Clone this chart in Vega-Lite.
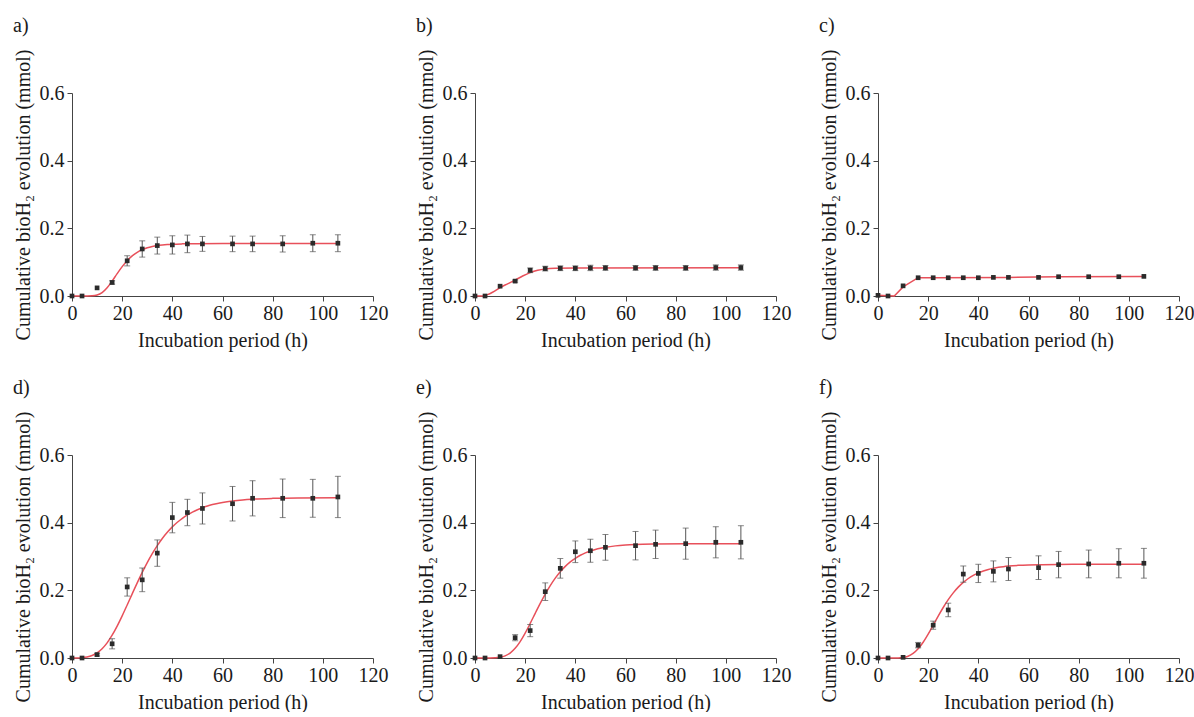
{
"$schema": "https://vega.github.io/schema/vega-lite/v6.json",
"background": "white",
"padding": {"left": 12, "top": 16, "right": 0, "bottom": 0},
"bounds": "flush",
"columns": 3,
"spacing": {"row": 159, "column": 102},
"datasets": {
"obs": [
{"p":"a","t":0,"y":0,"e":0},{"p":"a","t":4,"y":0,"e":0},{"p":"a","t":10,"y":0.024,"e":0},{"p":"a","t":16,"y":0.040,"e":0.005},{"p":"a","t":22,"y":0.104,"e":0.015},{"p":"a","t":28,"y":0.139,"e":0.024},{"p":"a","t":34,"y":0.149,"e":0.025},{"p":"a","t":40,"y":0.151,"e":0.027},{"p":"a","t":46,"y":0.154,"e":0.026},{"p":"a","t":52,"y":0.154,"e":0.022},{"p":"a","t":64,"y":0.154,"e":0.023},{"p":"a","t":72,"y":0.154,"e":0.023},{"p":"a","t":84,"y":0.154,"e":0.024},{"p":"a","t":96,"y":0.156,"e":0.025},{"p":"a","t":106,"y":0.156,"e":0.025},
{"p":"b","t":0,"y":0,"e":0},{"p":"b","t":4,"y":0,"e":0},{"p":"b","t":10,"y":0.029,"e":0},{"p":"b","t":16,"y":0.044,"e":0.003},{"p":"b","t":22,"y":0.076,"e":0.007},{"p":"b","t":28,"y":0.081,"e":0.007},{"p":"b","t":34,"y":0.082,"e":0.007},{"p":"b","t":40,"y":0.082,"e":0.007},{"p":"b","t":46,"y":0.083,"e":0.008},{"p":"b","t":52,"y":0.083,"e":0.007},{"p":"b","t":64,"y":0.083,"e":0.007},{"p":"b","t":72,"y":0.083,"e":0.007},{"p":"b","t":84,"y":0.083,"e":0.007},{"p":"b","t":96,"y":0.084,"e":0.008},{"p":"b","t":106,"y":0.084,"e":0.008},
{"p":"c","t":0,"y":0.002,"e":0},{"p":"c","t":4,"y":0,"e":0},{"p":"c","t":10,"y":0.030,"e":0},{"p":"c","t":16,"y":0.054,"e":0},{"p":"c","t":22,"y":0.054,"e":0},{"p":"c","t":28,"y":0.054,"e":0},{"p":"c","t":34,"y":0.054,"e":0},{"p":"c","t":40,"y":0.054,"e":0},{"p":"c","t":46,"y":0.055,"e":0},{"p":"c","t":52,"y":0.055,"e":0},{"p":"c","t":64,"y":0.055,"e":0},{"p":"c","t":72,"y":0.057,"e":0},{"p":"c","t":84,"y":0.057,"e":0},{"p":"c","t":96,"y":0.057,"e":0},{"p":"c","t":106,"y":0.058,"e":0},
{"p":"d","t":0,"y":0,"e":0},{"p":"d","t":4,"y":0,"e":0},{"p":"d","t":10,"y":0.010,"e":0.004},{"p":"d","t":16,"y":0.042,"e":0.015},{"p":"d","t":22,"y":0.210,"e":0.027},{"p":"d","t":28,"y":0.231,"e":0.035},{"p":"d","t":34,"y":0.310,"e":0.039},{"p":"d","t":40,"y":0.415,"e":0.045},{"p":"d","t":46,"y":0.430,"e":0.039},{"p":"d","t":52,"y":0.442,"e":0.046},{"p":"d","t":64,"y":0.456,"e":0.051},{"p":"d","t":72,"y":0.472,"e":0.052},{"p":"d","t":84,"y":0.472,"e":0.057},{"p":"d","t":96,"y":0.472,"e":0.056},{"p":"d","t":106,"y":0.476,"e":0.061},
{"p":"e","t":0,"y":0,"e":0},{"p":"e","t":4,"y":0,"e":0},{"p":"e","t":10,"y":0.004,"e":0},{"p":"e","t":16,"y":0.060,"e":0.009},{"p":"e","t":22,"y":0.081,"e":0.018},{"p":"e","t":28,"y":0.196,"e":0.026},{"p":"e","t":34,"y":0.265,"e":0.029},{"p":"e","t":40,"y":0.314,"e":0.032},{"p":"e","t":46,"y":0.317,"e":0.034},{"p":"e","t":52,"y":0.327,"e":0.038},{"p":"e","t":64,"y":0.332,"e":0.042},{"p":"e","t":72,"y":0.336,"e":0.042},{"p":"e","t":84,"y":0.338,"e":0.046},{"p":"e","t":96,"y":0.342,"e":0.046},{"p":"e","t":106,"y":0.342,"e":0.049},
{"p":"f","t":0,"y":0,"e":0},{"p":"f","t":4,"y":0,"e":0},{"p":"f","t":10,"y":0.002,"e":0},{"p":"f","t":16,"y":0.038,"e":0.008},{"p":"f","t":22,"y":0.097,"e":0.012},{"p":"f","t":28,"y":0.142,"e":0.020},{"p":"f","t":34,"y":0.248,"e":0.024},{"p":"f","t":40,"y":0.250,"e":0.027},{"p":"f","t":46,"y":0.256,"e":0.031},{"p":"f","t":52,"y":0.263,"e":0.034},{"p":"f","t":64,"y":0.267,"e":0.035},{"p":"f","t":72,"y":0.276,"e":0.039},{"p":"f","t":84,"y":0.278,"e":0.041},{"p":"f","t":96,"y":0.280,"e":0.043},{"p":"f","t":106,"y":0.280,"e":0.044}
],
"fit": [
{"p":"a","t":0,"y":0},{"p":"a","t":4,"y":0},{"p":"a","t":6,"y":0},{"p":"a","t":8,"y":0.0004},{"p":"a","t":10,"y":0.0028},{"p":"a","t":12,"y":0.0102},{"p":"a","t":14,"y":0.0244},{"p":"a","t":16,"y":0.0441},{"p":"a","t":18,"y":0.0660},{"p":"a","t":20,"y":0.0867},{"p":"a","t":22,"y":0.1044},{"p":"a","t":24,"y":0.1185},{"p":"a","t":26,"y":0.1291},{"p":"a","t":28,"y":0.1369},{"p":"a","t":30,"y":0.1425},{"p":"a","t":32,"y":0.1464},{"p":"a","t":34,"y":0.1491},{"p":"a","t":36,"y":0.1509},{"p":"a","t":38,"y":0.1522},{"p":"a","t":40,"y":0.1531},{"p":"a","t":44,"y":0.1541},{"p":"a","t":50,"y":0.1547},{"p":"a","t":60,"y":0.1550},{"p":"a","t":106,"y":0.1552},
{"p":"b","t":0,"y":0},{"p":"b","t":3,"y":0},{"p":"b","t":5,"y":0.004},{"p":"b","t":7,"y":0.011},{"p":"b","t":10,"y":0.025},{"p":"b","t":13,"y":0.036},{"p":"b","t":16,"y":0.047},{"p":"b","t":19,"y":0.059},{"p":"b","t":22,"y":0.069},{"p":"b","t":25,"y":0.076},{"p":"b","t":28,"y":0.080},{"p":"b","t":32,"y":0.082},{"p":"b","t":40,"y":0.083},{"p":"b","t":106,"y":0.0835},
{"p":"c","t":0,"y":0.002},{"p":"c","t":4,"y":0.001},{"p":"c","t":6.5,"y":0},{"p":"c","t":10,"y":0.027},{"p":"c","t":16,"y":0.054},{"p":"c","t":22,"y":0.054},{"p":"c","t":52,"y":0.055},{"p":"c","t":72,"y":0.057},{"p":"c","t":106,"y":0.058},
{"p":"d","t":0,"y":0.0001},{"p":"d","t":2,"y":0.0003},{"p":"d","t":4,"y":0.0011},{"p":"d","t":6,"y":0.0031},{"p":"d","t":8,"y":0.0074},{"p":"d","t":10,"y":0.0151},{"p":"d","t":12,"y":0.0274},{"p":"d","t":14,"y":0.0448},{"p":"d","t":16,"y":0.0673},{"p":"d","t":18,"y":0.0942},{"p":"d","t":20,"y":0.1245},{"p":"d","t":22,"y":0.1568},{"p":"d","t":24,"y":0.1897},{"p":"d","t":26,"y":0.2221},{"p":"d","t":28,"y":0.2531},{"p":"d","t":30,"y":0.2820},{"p":"d","t":32,"y":0.3084},{"p":"d","t":34,"y":0.3321},{"p":"d","t":36,"y":0.3532},{"p":"d","t":38,"y":0.3715},{"p":"d","t":40,"y":0.3875},{"p":"d","t":42,"y":0.4011},{"p":"d","t":44,"y":0.4129},{"p":"d","t":46,"y":0.4228},{"p":"d","t":48,"y":0.4312},{"p":"d","t":50,"y":0.4383},{"p":"d","t":52,"y":0.4443},{"p":"d","t":54,"y":0.4493},{"p":"d","t":56,"y":0.4534},{"p":"d","t":58,"y":0.4569},{"p":"d","t":60,"y":0.4598},{"p":"d","t":64,"y":0.4642},{"p":"d","t":68,"y":0.4673},{"p":"d","t":72,"y":0.4694},{"p":"d","t":80,"y":0.4718},{"p":"d","t":90,"y":0.4732},{"p":"d","t":106,"y":0.4738},
{"p":"e","t":0,"y":0},{"p":"e","t":4,"y":0},{"p":"e","t":6,"y":0.0001},{"p":"e","t":8,"y":0.0005},{"p":"e","t":10,"y":0.0021},{"p":"e","t":12,"y":0.0062},{"p":"e","t":14,"y":0.0146},{"p":"e","t":16,"y":0.0286},{"p":"e","t":18,"y":0.0486},{"p":"e","t":20,"y":0.0737},{"p":"e","t":22,"y":0.1021},{"p":"e","t":24,"y":0.1320},{"p":"e","t":26,"y":0.1614},{"p":"e","t":28,"y":0.1891},{"p":"e","t":30,"y":0.2142},{"p":"e","t":32,"y":0.2362},{"p":"e","t":34,"y":0.2551},{"p":"e","t":36,"y":0.2709},{"p":"e","t":38,"y":0.2841},{"p":"e","t":40,"y":0.2948},{"p":"e","t":42,"y":0.3036},{"p":"e","t":44,"y":0.3107},{"p":"e","t":46,"y":0.3163},{"p":"e","t":48,"y":0.3209},{"p":"e","t":50,"y":0.3245},{"p":"e","t":52,"y":0.3273},{"p":"e","t":56,"y":0.3314},{"p":"e","t":60,"y":0.3339},{"p":"e","t":64,"y":0.3355},{"p":"e","t":72,"y":0.3370},{"p":"e","t":84,"y":0.3378},{"p":"e","t":106,"y":0.3380},
{"p":"f","t":0,"y":0},{"p":"f","t":4,"y":0},{"p":"f","t":6,"y":0},{"p":"f","t":8,"y":0.0003},{"p":"f","t":10,"y":0.0016},{"p":"f","t":12,"y":0.0053},{"p":"f","t":14,"y":0.0134},{"p":"f","t":16,"y":0.0271},{"p":"f","t":18,"y":0.0465},{"p":"f","t":20,"y":0.0705},{"p":"f","t":22,"y":0.0970},{"p":"f","t":24,"y":0.1238},{"p":"f","t":26,"y":0.1493},{"p":"f","t":28,"y":0.1724},{"p":"f","t":30,"y":0.1925},{"p":"f","t":32,"y":0.2095},{"p":"f","t":34,"y":0.2236},{"p":"f","t":36,"y":0.2350},{"p":"f","t":38,"y":0.2442},{"p":"f","t":40,"y":0.2515},{"p":"f","t":42,"y":0.2572},{"p":"f","t":44,"y":0.2617},{"p":"f","t":46,"y":0.2651},{"p":"f","t":48,"y":0.2679},{"p":"f","t":50,"y":0.2700},{"p":"f","t":52,"y":0.2716},{"p":"f","t":56,"y":0.2738},{"p":"f","t":60,"y":0.2751},{"p":"f","t":64,"y":0.2759},{"p":"f","t":72,"y":0.2766},{"p":"f","t":84,"y":0.2769},{"p":"f","t":106,"y":0.2770}
]
},
"concat": [
{"title":"a)","width":301,"height":203,"layer":[
{"data":{"name":"fit"},"transform":[{"filter":"datum.p == 'a'"}],"mark":{"type":"line","color":"#e8505a","strokeWidth":1.5,"interpolate":"monotone"},
"encoding":{"x":{"field":"t","type":"quantitative","title":"Incubation period (h)","scale":{"domain":[0,120],"nice":false},"axis":{"values":[0,10,20,30,40,50,60,70,80,90,100,110,120],"labelExpr":"datum.value % 20 == 0 ? datum.label : ''","tickSize":{"condition":{"test":"datum.value % 20 != 0","value":3},"value":5},"labelOverlap":false,"labelFlush":false}},
"y":{"field":"y","type":"quantitative","title":"Cumulative bioH₂ evolution (mmol)","scale":{"domain":[0,0.6],"nice":false},"axis":{"values":[0,0.1,0.2,0.3,0.4,0.5,0.6],"format":".1f","labelExpr":"round(datum.value*10) % 2 == 0 ? datum.label : ''","tickSize":{"condition":{"test":"round(datum.value*10) % 2 == 1","value":3},"value":5},"labelOverlap":false}}}},
{"data":{"name":"obs"},"transform":[{"filter":"datum.p == 'a' && datum.e > 0"}],"mark":{"type":"errorbar","ticks":true,"color":"#555","size":6,"thickness":1},"encoding":{"x":{"field":"t","type":"quantitative","title":"Incubation period (h)"},"y":{"field":"y","type":"quantitative","title":"Cumulative bioH₂ evolution (mmol)"},"yError":{"field":"e"}}},
{"data":{"name":"obs"},"transform":[{"filter":"datum.p == 'a'"}],"mark":{"type":"point","shape":"square","filled":true,"size":22,"color":"#2b2b2b","opacity":1},"encoding":{"x":{"field":"t","type":"quantitative","title":"Incubation period (h)"},"y":{"field":"y","type":"quantitative","title":"Cumulative bioH₂ evolution (mmol)"}}}
]},
{"title":"b)","width":301,"height":203,"layer":[
{"data":{"name":"fit"},"transform":[{"filter":"datum.p == 'b'"}],"mark":{"type":"line","color":"#e8505a","strokeWidth":1.5,"interpolate":"monotone"},
"encoding":{"x":{"field":"t","type":"quantitative","title":"Incubation period (h)","scale":{"domain":[0,120],"nice":false},"axis":{"values":[0,10,20,30,40,50,60,70,80,90,100,110,120],"labelExpr":"datum.value % 20 == 0 ? datum.label : ''","tickSize":{"condition":{"test":"datum.value % 20 != 0","value":3},"value":5},"labelOverlap":false,"labelFlush":false}},
"y":{"field":"y","type":"quantitative","title":"Cumulative bioH₂ evolution (mmol)","scale":{"domain":[0,0.6],"nice":false},"axis":{"values":[0,0.1,0.2,0.3,0.4,0.5,0.6],"format":".1f","labelExpr":"round(datum.value*10) % 2 == 0 ? datum.label : ''","tickSize":{"condition":{"test":"round(datum.value*10) % 2 == 1","value":3},"value":5},"labelOverlap":false}}}},
{"data":{"name":"obs"},"transform":[{"filter":"datum.p == 'b' && datum.e > 0"}],"mark":{"type":"errorbar","ticks":true,"color":"#555","size":6,"thickness":1},"encoding":{"x":{"field":"t","type":"quantitative","title":"Incubation period (h)"},"y":{"field":"y","type":"quantitative","title":"Cumulative bioH₂ evolution (mmol)"},"yError":{"field":"e"}}},
{"data":{"name":"obs"},"transform":[{"filter":"datum.p == 'b'"}],"mark":{"type":"point","shape":"square","filled":true,"size":22,"color":"#2b2b2b","opacity":1},"encoding":{"x":{"field":"t","type":"quantitative","title":"Incubation period (h)"},"y":{"field":"y","type":"quantitative","title":"Cumulative bioH₂ evolution (mmol)"}}}
]},
{"title":"c)","width":301,"height":203,"layer":[
{"data":{"name":"fit"},"transform":[{"filter":"datum.p == 'c'"}],"mark":{"type":"line","color":"#e8505a","strokeWidth":1.5,"interpolate":"linear"},
"encoding":{"x":{"field":"t","type":"quantitative","title":"Incubation period (h)","scale":{"domain":[0,120],"nice":false},"axis":{"values":[0,10,20,30,40,50,60,70,80,90,100,110,120],"labelExpr":"datum.value % 20 == 0 ? datum.label : ''","tickSize":{"condition":{"test":"datum.value % 20 != 0","value":3},"value":5},"labelOverlap":false,"labelFlush":false}},
"y":{"field":"y","type":"quantitative","title":"Cumulative bioH₂ evolution (mmol)","scale":{"domain":[0,0.6],"nice":false},"axis":{"values":[0,0.1,0.2,0.3,0.4,0.5,0.6],"format":".1f","labelExpr":"round(datum.value*10) % 2 == 0 ? datum.label : ''","tickSize":{"condition":{"test":"round(datum.value*10) % 2 == 1","value":3},"value":5},"labelOverlap":false}}}},
{"data":{"name":"obs"},"transform":[{"filter":"datum.p == 'c'"}],"mark":{"type":"point","shape":"square","filled":true,"size":22,"color":"#2b2b2b","opacity":1},"encoding":{"x":{"field":"t","type":"quantitative","title":"Incubation period (h)"},"y":{"field":"y","type":"quantitative","title":"Cumulative bioH₂ evolution (mmol)"}}}
]},
{"title":"d)","width":301,"height":203,"layer":[
{"data":{"name":"fit"},"transform":[{"filter":"datum.p == 'd'"}],"mark":{"type":"line","color":"#e8505a","strokeWidth":1.5,"interpolate":"monotone"},
"encoding":{"x":{"field":"t","type":"quantitative","title":"Incubation period (h)","scale":{"domain":[0,120],"nice":false},"axis":{"values":[0,10,20,30,40,50,60,70,80,90,100,110,120],"labelExpr":"datum.value % 20 == 0 ? datum.label : ''","tickSize":{"condition":{"test":"datum.value % 20 != 0","value":3},"value":5},"labelOverlap":false,"labelFlush":false}},
"y":{"field":"y","type":"quantitative","title":"Cumulative bioH₂ evolution (mmol)","scale":{"domain":[0,0.6],"nice":false},"axis":{"values":[0,0.1,0.2,0.3,0.4,0.5,0.6],"format":".1f","labelExpr":"round(datum.value*10) % 2 == 0 ? datum.label : ''","tickSize":{"condition":{"test":"round(datum.value*10) % 2 == 1","value":3},"value":5},"labelOverlap":false}}}},
{"data":{"name":"obs"},"transform":[{"filter":"datum.p == 'd' && datum.e > 0"}],"mark":{"type":"errorbar","ticks":true,"color":"#555","size":6,"thickness":1},"encoding":{"x":{"field":"t","type":"quantitative","title":"Incubation period (h)"},"y":{"field":"y","type":"quantitative","title":"Cumulative bioH₂ evolution (mmol)"},"yError":{"field":"e"}}},
{"data":{"name":"obs"},"transform":[{"filter":"datum.p == 'd'"}],"mark":{"type":"point","shape":"square","filled":true,"size":22,"color":"#2b2b2b","opacity":1},"encoding":{"x":{"field":"t","type":"quantitative","title":"Incubation period (h)"},"y":{"field":"y","type":"quantitative","title":"Cumulative bioH₂ evolution (mmol)"}}}
]},
{"title":"e)","width":301,"height":203,"layer":[
{"data":{"name":"fit"},"transform":[{"filter":"datum.p == 'e'"}],"mark":{"type":"line","color":"#e8505a","strokeWidth":1.5,"interpolate":"monotone"},
"encoding":{"x":{"field":"t","type":"quantitative","title":"Incubation period (h)","scale":{"domain":[0,120],"nice":false},"axis":{"values":[0,10,20,30,40,50,60,70,80,90,100,110,120],"labelExpr":"datum.value % 20 == 0 ? datum.label : ''","tickSize":{"condition":{"test":"datum.value % 20 != 0","value":3},"value":5},"labelOverlap":false,"labelFlush":false}},
"y":{"field":"y","type":"quantitative","title":"Cumulative bioH₂ evolution (mmol)","scale":{"domain":[0,0.6],"nice":false},"axis":{"values":[0,0.1,0.2,0.3,0.4,0.5,0.6],"format":".1f","labelExpr":"round(datum.value*10) % 2 == 0 ? datum.label : ''","tickSize":{"condition":{"test":"round(datum.value*10) % 2 == 1","value":3},"value":5},"labelOverlap":false}}}},
{"data":{"name":"obs"},"transform":[{"filter":"datum.p == 'e' && datum.e > 0"}],"mark":{"type":"errorbar","ticks":true,"color":"#555","size":6,"thickness":1},"encoding":{"x":{"field":"t","type":"quantitative","title":"Incubation period (h)"},"y":{"field":"y","type":"quantitative","title":"Cumulative bioH₂ evolution (mmol)"},"yError":{"field":"e"}}},
{"data":{"name":"obs"},"transform":[{"filter":"datum.p == 'e'"}],"mark":{"type":"point","shape":"square","filled":true,"size":22,"color":"#2b2b2b","opacity":1},"encoding":{"x":{"field":"t","type":"quantitative","title":"Incubation period (h)"},"y":{"field":"y","type":"quantitative","title":"Cumulative bioH₂ evolution (mmol)"}}}
]},
{"title":"f)","width":301,"height":203,"layer":[
{"data":{"name":"fit"},"transform":[{"filter":"datum.p == 'f'"}],"mark":{"type":"line","color":"#e8505a","strokeWidth":1.5,"interpolate":"monotone"},
"encoding":{"x":{"field":"t","type":"quantitative","title":"Incubation period (h)","scale":{"domain":[0,120],"nice":false},"axis":{"values":[0,10,20,30,40,50,60,70,80,90,100,110,120],"labelExpr":"datum.value % 20 == 0 ? datum.label : ''","tickSize":{"condition":{"test":"datum.value % 20 != 0","value":3},"value":5},"labelOverlap":false,"labelFlush":false}},
"y":{"field":"y","type":"quantitative","title":"Cumulative bioH₂ evolution (mmol)","scale":{"domain":[0,0.6],"nice":false},"axis":{"values":[0,0.1,0.2,0.3,0.4,0.5,0.6],"format":".1f","labelExpr":"round(datum.value*10) % 2 == 0 ? datum.label : ''","tickSize":{"condition":{"test":"round(datum.value*10) % 2 == 1","value":3},"value":5},"labelOverlap":false}}}},
{"data":{"name":"obs"},"transform":[{"filter":"datum.p == 'f' && datum.e > 0"}],"mark":{"type":"errorbar","ticks":true,"color":"#555","size":6,"thickness":1},"encoding":{"x":{"field":"t","type":"quantitative","title":"Incubation period (h)"},"y":{"field":"y","type":"quantitative","title":"Cumulative bioH₂ evolution (mmol)"},"yError":{"field":"e"}}},
{"data":{"name":"obs"},"transform":[{"filter":"datum.p == 'f'"}],"mark":{"type":"point","shape":"square","filled":true,"size":22,"color":"#2b2b2b","opacity":1},"encoding":{"x":{"field":"t","type":"quantitative","title":"Incubation period (h)"},"y":{"field":"y","type":"quantitative","title":"Cumulative bioH₂ evolution (mmol)"}}}
]}
],
"config": {
"view": {"stroke": null},
"font": "Liberation Serif, Times New Roman, serif",
"axis": {"grid": false, "labelFont": "Liberation Serif, Times New Roman, serif", "labelFontSize": 20, "labelColor": "#1a1a1a", "titleFont": "Liberation Serif, Times New Roman, serif", "titleFontSize": 20, "titleFontWeight": "normal", "titleColor": "#1a1a1a", "domainColor": "#444", "tickColor": "#444", "domainWidth": 1, "tickWidth": 1},
"axisX": {"labelPadding": 2, "titlePadding": 7},
"axisY": {"labelPadding": 3, "titlePadding": 6},
"title": {"font": "Liberation Serif, Times New Roman, serif", "fontSize": 20, "fontWeight": "normal", "anchor": "start", "frame": "bounds", "offset": 13, "color": "#1a1a1a"}
}
}
